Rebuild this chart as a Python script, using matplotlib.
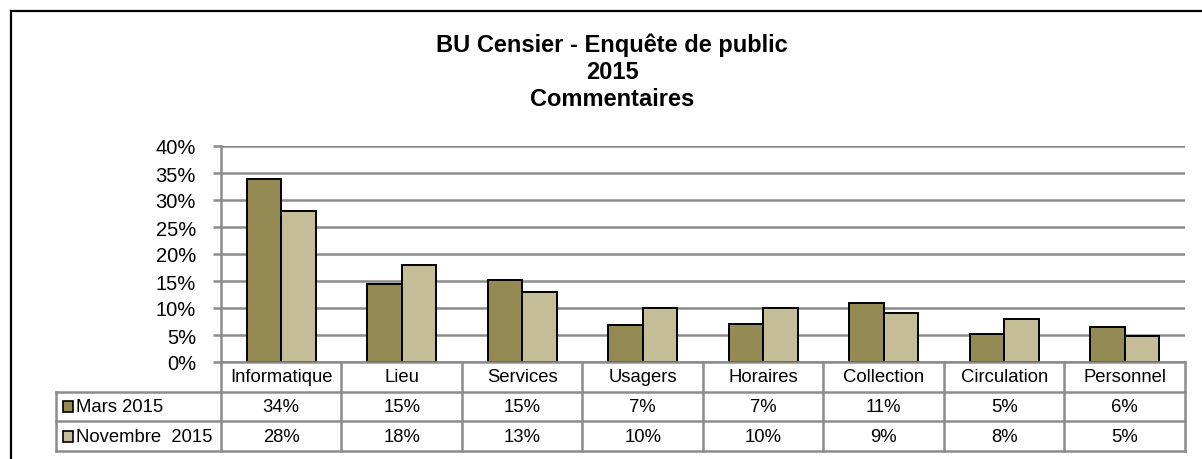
import numpy as np
import matplotlib.pyplot as plt
from matplotlib.lines import Line2D
from matplotlib.patches import Rectangle
from matplotlib.ticker import MultipleLocator, PercentFormatter

plt.rcParams['font.family'] = ['Liberation Sans', 'DejaVu Sans']

categories = ["Informatique", "Lieu", "Services", "Usagers", "Horaires",
              "Collection", "Circulation", "Personnel"]
series_names = ["Mars 2015", "Novembre  2015"]
# bar heights (%)
mars = [33.8, 14.5, 15.1, 6.9, 7.0, 10.9, 5.2, 6.4]
novembre = [28.0, 18.0, 13.0, 10.0, 10.0, 9.0, 8.0, 4.9]
# values as printed in the data table
mars_labels = ["34%", "15%", "15%", "7%", "7%", "11%", "5%", "6%"]
novembre_labels = ["28%", "18%", "13%", "10%", "10%", "9%", "8%", "5%"]
title_lines = ["BU Censier - Enquête de public", "2015", "Commentaires"]

colors = ["#948A54", "#C4BD97"]
grid_col = "#8C8C8C"

W, H = 1202, 460


def fx(px):
    return px / W


def fy(py):
    return 1 - py / H


fig = plt.figure(figsize=(W / 100, H / 100), dpi=100)

# outer chart border (left and top only visible)
fig.add_artist(Line2D([fx(11), fx(11)], [fy(12), 0], color="black", lw=1.6))
fig.add_artist(Line2D([fx(11), 1], [fy(12), fy(12)], color="black", lw=1.6))

# title
for i, t in enumerate(title_lines):
    fig.text(fx(612), fy(45 + i * 27.5), t, ha="center", va="center",
             fontsize=17, fontweight="bold")

# main plot area
ax = fig.add_axes([fx(221), fy(363), fx(1185) - fx(221), fy(147) - fy(363)])
x = np.arange(len(categories))
w = 0.286
ax.bar(x - w / 2, mars, w, color=colors[0], edgecolor="black", lw=1.4, zorder=3)
ax.bar(x + w / 2, novembre, w, color=colors[1], edgecolor="black", lw=1.4, zorder=3)
ax.set_xlim(-0.5, len(categories) - 0.5)
ax.set_ylim(0, 40)
ax.yaxis.set_major_locator(MultipleLocator(5))
ax.yaxis.set_major_formatter(PercentFormatter(decimals=0))
ax.grid(axis="y", color=grid_col, lw=1.8, zorder=0)
ax.set_xticks([])
for s in ["top", "right", "bottom"]:
    ax.spines[s].set_visible(False)
ax.spines["left"].set_color(grid_col)
ax.spines["left"].set_linewidth(1.8)
ax.tick_params(axis="y", length=6, width=1.8, color=grid_col, pad=12,
               labelsize=14.5)

# data table below the plot
n = len(categories)
lab_w = 1.373
tb = fig.add_axes([fx(55.5), fy(452), fx(1185) - fx(55.5), fy(363) - fy(452)])
tb.set_xlim(-0.5 - lab_w, n - 0.5)
tb.set_ylim(3, 0)
tb.axis("off")
lc = dict(color=grid_col, lw=1.8, clip_on=False)
# horizontal lines
tb.plot([-0.5, n - 0.5], [0, 0], **lc)
for r in [1, 2, 3]:
    tb.plot([-0.5 - lab_w, n - 0.5], [r, r], **lc)
# vertical lines
tb.plot([-0.5 - lab_w, -0.5 - lab_w], [1, 3], **lc)
for c in range(n + 1):
    tb.plot([c - 0.5, c - 0.5], [0, 3], **lc)

fs = 13.3
for i, cat in enumerate(categories):
    tb.text(i, 0.5, cat, ha="center", va="center", fontsize=fs)
    tb.text(i, 1.5, mars_labels[i], ha="center", va="center", fontsize=fs)
    tb.text(i, 2.5, novembre_labels[i], ha="center", va="center", fontsize=fs)

# legend keys in the row headers
sq = 0.085
for r, (name, col) in enumerate(zip(series_names, colors)):
    x0 = -0.5 - lab_w + 0.06
    tb.add_patch(Rectangle((x0, r + 1.5 - 0.18), sq, 0.36, facecolor=col,
                           edgecolor="black", lw=1.2, clip_on=False))
    tb.text(x0 + sq + 0.025, r + 1.5, name, ha="left", va="center", fontsize=fs)

fig.savefig("out.png", dpi=100)
